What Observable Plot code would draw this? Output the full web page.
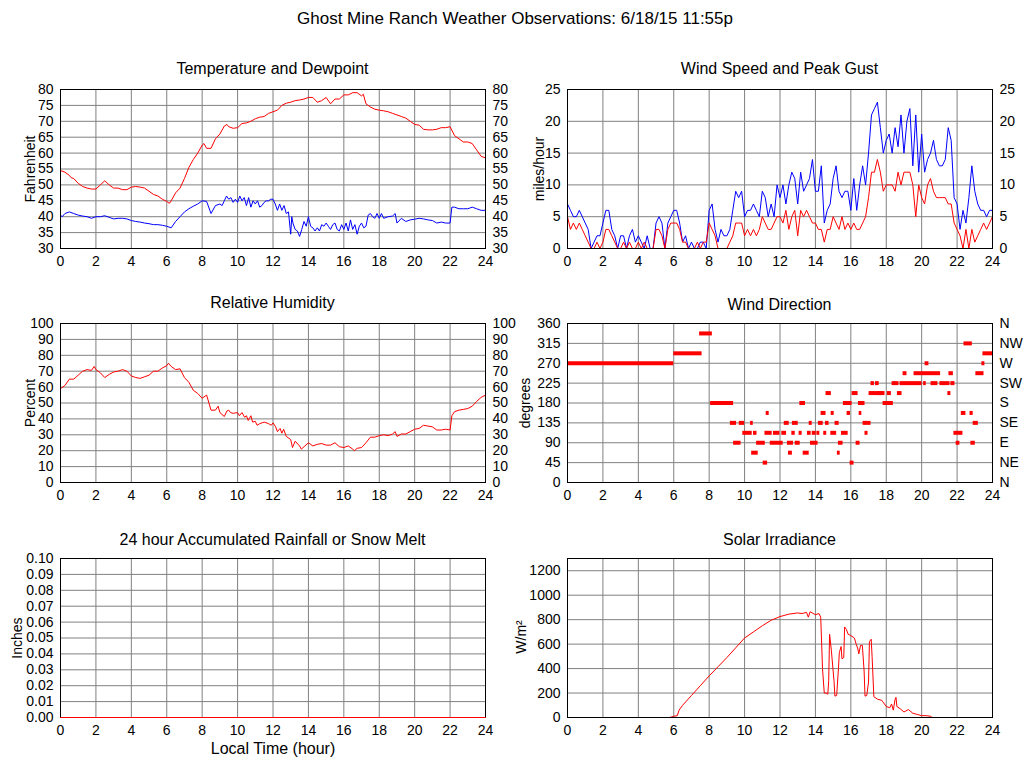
<!DOCTYPE html>
<html><head><meta charset="utf-8">
<script src="https://cdn.jsdelivr.net/npm/d3@7"></script>
<script src="https://cdn.jsdelivr.net/npm/@observablehq/plot@0.6"></script>
<style>
body{margin:0;background:#fff;}
#root{position:relative;width:1024px;height:768px;overflow:hidden;font-family:"Liberation Sans",Arial,Helvetica,sans-serif;color:#000;background:#fff;}
.t{position:absolute;white-space:nowrap;transform:translate(-50%,-50%);line-height:1;}
.main{font-size:17px}
.ptitle{font-size:16px}
.xlab{font-size:16px}
.ylab{font-size:14px;transform:translate(-50%,-50%) rotate(-90deg);}
.panel{position:absolute}
</style></head><body><div id="root"></div><script>
// ---------- DATA ----------
const mainTitle = "Ghost Mine Ranch Weather Observations: 6/18/15 11:55p";
const hourTicks = [0,2,4,6,8,10,12,14,16,18,20,22,24];
const tempTicks = [30,35,40,45,50,55,60,65,70,75,80];
const windTicks = [0,5,10,15,20,25];
const rhTicks = [0,10,20,30,40,50,60,70,80,90,100];
const dirTicks = [0,45,90,135,180,225,270,315,360];
const dirNames = ["N","NE","E","SE","S","SW","W","NW","N"];
const rainTicks = [0,0.01,0.02,0.03,0.04,0.05,0.06,0.07,0.08,0.09,0.10];
const solarTicks = [0,200,400,600,800,1000,1200];

// [hour, °F]
const temperature = [[0,54.5],[0.25,54],[0.5,53],[0.6,52.3],[0.75,52],[1,50.5],[1.25,49.5],[1.5,49],[1.75,48.7],[2,48.7],[2.25,50],[2.5,51.3],[2.75,50],[3,49],[3.25,49],[3.5,48.5],[3.75,48.5],[4,49.3],[4.25,49.5],[4.5,49.3],[4.75,49],[5,48],[5.25,47],[5.5,46.5],[5.75,45.5],[6,44.8],[6.15,44.2],[6.25,45],[6.5,47.5],[6.75,49],[7,52],[7.25,55.5],[7.5,58],[7.75,60],[8,62.5],[8.1,63],[8.25,61.5],[8.5,61.5],[8.75,64.5],[9,66],[9.25,68.5],[9.4,69],[9.5,68.3],[9.75,67.8],[10,68],[10.25,69.3],[10.5,69.5],[10.75,70],[11,70.8],[11.25,71.3],[11.5,71.5],[11.75,72.5],[12,73],[12.25,73.5],[12.5,75],[12.75,75.7],[13,76],[13.25,76.5],[13.5,76.7],[13.75,77],[14,77.5],[14.25,77.5],[14.5,76],[14.75,76.5],[15,77.5],[15.25,75.5],[15.5,77],[15.75,77],[16,78.3],[16.25,78.3],[16.5,79],[16.75,79],[17,78],[17.1,78.5],[17.25,75.5],[17.5,74.5],[17.75,73.8],[18,73.5],[18.25,73.3],[18.5,73],[18.75,72.5],[19,72],[19.25,71.5],[19.5,71],[19.75,70],[20,69],[20.25,68.8],[20.5,67.5],[20.75,67.3],[21,67.3],[21.25,67.5],[21.5,68],[21.75,68],[22,68.3],[22.25,65.5],[22.5,64.5],[22.75,63.5],[23,63.5],[23.25,63],[23.5,61],[23.75,59],[24,58.5]];

// [hour, °F]
const dewpoint = [[0,40.5],[0.1,40],[0.25,41],[0.5,41.5],[0.75,41],[1,40.5],[1.25,40.2],[1.5,40],[1.75,39.5],[2,40],[2.25,40],[2.5,40.3],[2.75,39.8],[3,39.3],[3.25,39.5],[3.5,39.5],[3.75,39.3],[4,38.8],[4.25,38.5],[4.5,38.3],[4.75,38],[5,37.8],[5.25,37.5],[5.5,37.5],[5.75,37.3],[6,37],[6.25,36.5],[6.5,38.5],[6.75,40],[7,41.5],[7.25,42.5],[7.5,43.3],[7.75,44],[8,45],[8.25,44.8],[8.5,41],[8.75,43.5],[9,44],[9.125,43.5],[9.25,45],[9.375,46.5],[9.5,45.5],[9.625,46],[9.75,44.5],[9.875,45.5],[10,44.5],[10.125,46.5],[10.25,45],[10.375,46],[10.5,43.5],[10.625,46],[10.75,43],[10.875,45],[11,44],[11.125,45],[11.25,43],[11.375,43.5],[11.5,44.5],[11.625,45],[11.75,45],[11.875,45.5],[12,45.5],[12.125,44],[12.25,42],[12.375,44],[12.5,42],[12.625,43.5],[12.75,41],[12.875,41.5],[13,34.5],[13.06,40],[13.125,38],[13.25,36],[13.375,35.5],[13.5,33.8],[13.625,36],[13.75,38.5],[13.875,37],[14,40],[14.125,37],[14.25,36.5],[14.375,35.5],[14.5,36.5],[14.625,35.5],[14.75,37.5],[14.875,37],[15,38],[15.125,37],[15.25,36],[15.375,37.5],[15.5,38],[15.625,36],[15.75,35.5],[15.875,37.5],[16,36],[16.125,38],[16.25,35.5],[16.375,39],[16.5,36],[16.625,37.5],[16.75,34.5],[16.875,37],[17,38],[17.125,36.5],[17.25,37],[17.375,40.5],[17.5,41],[17.625,40],[17.75,39.5],[17.875,41],[18,39.5],[18.125,41],[18.25,39.5],[18.5,40],[18.75,40.2],[18.9,41],[19,38],[19.25,39.5],[19.5,38.5],[19.75,39],[20,39.2],[20.25,39.5],[20.5,39.3],[20.75,39],[21,38.8],[21.25,38],[21.5,38.3],[21.75,38],[22,38],[22.1,43],[22.25,43],[22.5,42.5],[22.75,42.5],[23,42.5],[23.25,43],[23.5,42.5],[23.75,42],[24,42]];

// wind samples every 10 minutes from 0:00 to 24:00 (mph)
const windSampleHours = 1/6;
const peakGust = [7,6,5,5,6,5,4,3,0,1,2,2,4,
  6,6,3,2,0,2,2,0,2,3,1,2,
  1,0,2,0,0,4,5,4,0,4,5,6,
  6,4,1,2,0,1,0,0,1,1,0,6,
  7,3,1,3,2,2,3,6,9,8,9,5,
  6,6,7,6,5,9,8,5,7,5,10,8,
  10,7,10,12,11,7,12,9,10,11,14,9,
  9,13,4,6,7,11,13,9,8,9,9,6,
  11,6,10,13,10,15,21,22,23,19,15,17,
  18,15,19,16,21,15,20,22,13,21,12,18,
  12,14,15,17,14,13,13,14,19,17,8,7,
  3,6,4,8,13,9,7,6,6,5,6,6];
const windSpeed = [5,3,4,3,4,3,2,1,0,0,1,0,1,
  3,3,2,1,0,0,1,0,1,0,0,1,
  0,1,0,0,0,3,3,2,0,3,4,4,
  4,3,1,1,0,0,0,1,0,1,1,4,
  3,2,0,0,0,0,1,2,4,4,4,2,
  3,2,3,2,3,5,4,3,3,4,5,5,
  4,6,3,5,6,2,6,5,6,5,4,4,
  3,3,1,3,3,5,4,3,5,3,4,3,
  4,3,3,4,5,8,12,12,14,12,9,10,
  10,10,9,12,10,12,12,12,10,5,10,8,
  7,10,11,9,8,8,8,8,7,7,4,3,
  2,0,3,0,3,1,2,3,4,3,4,5];

// [hour, %]
const humidity = [[0,59],[0.25,61],[0.5,65],[0.75,65],[1,67.5],[1.25,70],[1.5,71],[1.75,70.5],[1.9,73],[2,71],[2.25,69],[2.5,66],[2.75,68],[3,69.5],[3.25,70],[3.5,71],[3.75,70],[4,67],[4.25,66],[4.5,65.5],[4.75,66.5],[5,67.5],[5.25,70],[5.5,70],[5.75,72],[6,73.5],[6.1,75],[6.25,73],[6.5,71],[6.75,71.5],[7,66],[7.25,63],[7.5,58],[7.75,56],[8,53],[8.25,55],[8.5,45.5],[8.75,45.5],[8.9,48],[9,44],[9.25,41.5],[9.4,45],[9.5,45.5],[9.6,44],[9.75,43.5],[10,44],[10.1,42],[10.25,44],[10.4,41],[10.5,42],[10.6,39],[10.75,42],[10.85,38],[11,38.5],[11.1,36],[11.25,37],[11.5,38],[11.75,37],[11.9,36],[12,37.5],[12.15,35],[12.25,32],[12.4,34],[12.5,31],[12.6,33.5],[12.75,29],[13,27],[13.1,22],[13.25,26],[13.5,23],[13.6,21],[13.75,22.5],[14,25],[14.25,23],[14.5,24],[14.75,24.5],[15,23.5],[15.25,23.5],[15.5,25],[15.75,22.5],[16,22],[16.25,23],[16.5,21],[16.6,20],[16.75,21.5],[17,22],[17.25,25],[17.5,28.5],[17.75,28.5],[18,29.5],[18.25,30],[18.5,29.5],[18.75,30.5],[18.9,32],[19,29],[19.25,30.5],[19.5,30.5],[19.75,32],[20,33.5],[20.25,34],[20.5,36],[20.75,35.5],[21,35],[21.25,33],[21.5,33],[21.75,33.5],[22,33],[22.1,42],[22.25,44.5],[22.5,45.5],[22.75,46],[23,46.5],[23.25,48],[23.5,51],[23.75,53.5],[24,55]];

// [start hour, end hour, degrees]
const windDirection = [[0,6,270],[6,7.6,292.5],[7.46,8.18,337.5],[8.08,9.38,180],[9.2,9.55,135],[9.38,9.8,90],[9.7,10,135],[9.9,10.43,112.5],[10.34,10.49,135],[10.4,10.77,67.5],[10.5,10.7,112.5],[10.68,11.17,90],[11.05,11.3,45],[11.15,11.56,112.5],[11.22,11.39,157.5],[11.45,12.18,90],[11.63,12,112.5],[12.1,12.37,112.5],[12.24,12.52,135],[12.42,12.76,90],[12.48,12.7,67.5],[12.67,12.86,112.5],[12.7,13.03,135],[12.86,13.14,90],[13.08,13.25,112.5],[13.12,13.44,180],[13.31,13.65,67.5],[13.55,13.76,112.5],[13.65,13.82,135],[13.72,14.15,90],[13.82,14.04,112.5],[14.08,14.25,112.5],[14.17,14.44,135],[14.32,14.6,157.5],[14.47,14.64,112.5],[14.57,14.77,135],[14.6,14.9,202.5],[14.89,15.06,157.5],[14.87,15.2,112.5],[15.11,15.34,135],[15.24,15.4,67.5],[15.3,15.56,90],[15.47,15.85,112.5],[15.58,16.07,180],[15.79,15.98,157.5],[15.96,16.18,45],[16.07,16.41,202.5],[16.3,16.52,90],[16.47,16.62,157.5],[16.43,16.8,180],[16.69,17.14,135],[16.8,16.97,112.5],[17.03,17.78,202.5],[17.14,17.33,225],[17.39,17.6,225],[17.52,17.93,202.5],[17.82,18.4,180],[18.06,18.29,202.5],[18.33,18.72,225],[18.63,18.89,202.5],[18.78,20.02,225],[18.95,19.17,247.5],[19.57,21.07,247.5],[20.11,20.26,225],[20.19,20.41,270],[20.53,20.92,225],[21.03,21.6,225],[21.48,21.65,202.5],[21.54,21.79,247.5],[21.65,21.88,225],[21.82,22.33,112.5],[21.95,22.16,90],[22.24,22.5,157.5],[22.39,22.86,315],[22.73,22.91,157.5],[22.78,23.03,90],[22.91,23.2,135],[23.06,23.52,247.5],[23.4,23.57,270],[23.46,24,292.5]];

// [hour, inches]
const rainfall = [[0,0],[24,0]];

// [hour, W/m²]
const solar = [[0,0],[5.75,0],[5.9,5],[6,10],[6.2,15],[6.3,60],[6.5,100],[7,180],[7.5,260],[8,340],[8.5,415],[9,490],[9.5,570],[10,650],[10.5,700],[11,750],[11.5,795],[12,825],[12.5,845],[13,855],[13.25,850],[13.5,860],[13.6,820],[13.7,865],[14,840],[14.2,850],[14.3,820],[14.4,400],[14.5,200],[14.6,200],[14.7,190],[14.75,300],[14.8,680],[14.9,550],[15,380],[15.05,300],[15.1,175],[15.2,180],[15.3,400],[15.35,530],[15.45,580],[15.5,480],[15.6,490],[15.65,740],[15.75,720],[15.85,680],[16,670],[16.2,650],[16.3,600],[16.4,560],[16.45,520],[16.55,590],[16.65,590],[16.75,380],[16.8,175],[16.9,180],[17,290],[17.05,620],[17.15,640],[17.2,500],[17.3,170],[17.5,150],[17.75,140],[18,90],[18.2,80],[18.3,110],[18.4,60],[18.5,150],[18.55,165],[18.6,90],[18.8,70],[19,45],[19.25,65],[19.5,35],[19.75,25],[20,15],[20.25,15],[20.5,10],[20.6,0],[24,0]];

// ---------- RENDER ----------
const RED = "#ff0000", BLUE = "#0000ff", GRID = "#808080";
const root = document.getElementById("root");

function addText(txt, x, y, cls) {
  const d = document.createElement("div");
  d.className = "t " + cls;
  d.style.left = x + "px"; d.style.top = y + "px";
  d.textContent = txt;
  root.appendChild(d);
}

function panel({left, top, plotLeft, plotTop, plotRight, plotBottom, yDomain, yTicks, yFormat, rightFormat, marks, after = []}) {
  const W = 512;
  const marginLeft = plotLeft - left, marginRight = left + W - plotRight;
  const marginTop = plotTop - top, marginBottom = 24;
  const H = plotBottom - top + marginBottom;
  const axes = [
    Plot.axisX(hourTicks, {tickSize: 0, tickPadding: 8, label: null}),
    Plot.axisY(yTicks, {anchor: "left", tickSize: 0, tickPadding: 7, label: null, tickFormat: yFormat})
  ];
  if (rightFormat) axes.push(Plot.axisY(yTicks, {anchor: "right", tickSize: 0, tickPadding: 7, label: null, tickFormat: rightFormat}));
  const p = Plot.plot({
    width: W, height: H, marginLeft, marginRight, marginTop, marginBottom,
    style: {background: "transparent", fontFamily: "'Liberation Sans', Arial, Helvetica, sans-serif", fontSize: "14px", color: "#000", overflow: "visible"},
    x: {domain: [0, 24]},
    y: {domain: yDomain},
    marks: [
      Plot.gridX(hourTicks, {stroke: GRID, strokeOpacity: 1}),
      Plot.gridY(yTicks, {stroke: GRID, strokeOpacity: 1}),
      ...marks,
      Plot.frame({stroke: "#000", strokeOpacity: 1}),
      ...after,
      ...axes
    ]
  });
  p.classList.add("panel");
  p.style.left = left + "px"; p.style.top = top + "px";
  root.appendChild(p);
}

const fmtInt = d3.format("d");
const L = {left: 0, plotLeft: 60, plotRight: 485};
const R = {left: 512, plotLeft: 567, plotRight: 992};
const rows = [{top: 80, plotTop: 89, plotBottom: 248}, {top: 314, plotTop: 323, plotBottom: 482}, {top: 548, plotTop: 558, plotBottom: 717}];

panel({...L, ...rows[0], yDomain: [30, 80], yTicks: tempTicks, yFormat: fmtInt, rightFormat: fmtInt,
  marks: [
    Plot.line(temperature, {x: d => d[0], y: d => d[1], stroke: RED, strokeWidth: 1}),
    Plot.line(dewpoint, {x: d => d[0], y: d => d[1], stroke: BLUE, strokeWidth: 1})
  ]});

panel({...R, ...rows[0], yDomain: [0, 25], yTicks: windTicks, yFormat: fmtInt, rightFormat: fmtInt,
  marks: [
    Plot.line(peakGust, {x: (d, i) => i * windSampleHours, y: d => d, stroke: BLUE, strokeWidth: 1}),
    Plot.line(windSpeed, {x: (d, i) => i * windSampleHours, y: d => d, stroke: RED, strokeWidth: 1})
  ]});

panel({...L, ...rows[1], yDomain: [0, 100], yTicks: rhTicks, yFormat: fmtInt, rightFormat: fmtInt,
  marks: [
    Plot.line(humidity, {x: d => d[0], y: d => d[1], stroke: RED, strokeWidth: 1})
  ]});

panel({...R, ...rows[1], yDomain: [0, 360], yTicks: dirTicks, yFormat: fmtInt, rightFormat: d => dirNames[dirTicks.indexOf(d)],
  marks: [
    Plot.ruleY(windDirection, {x1: d => d[0], x2: d => d[1], y: d => d[2], stroke: RED, strokeWidth: 4})
  ]});

panel({...L, ...rows[2], yDomain: [0, 0.1], yTicks: rainTicks, yFormat: d3.format(".2f"), rightFormat: null,
  marks: [],
  after: [Plot.line(rainfall, {x: d => d[0], y: d => d[1], stroke: RED, strokeWidth: 1})]});

panel({...R, ...rows[2], yDomain: [0, 1300], yTicks: solarTicks, yFormat: fmtInt, rightFormat: null,
  marks: [
    Plot.line(solar, {x: d => d[0], y: d => d[1], stroke: RED, strokeWidth: 1})
  ]});

// titles and axis labels
addText(mainTitle, 515, 18, "main");
addText("Temperature and Dewpoint", 272.5, 69, "ptitle");
addText("Wind Speed and Peak Gust", 779.5, 69, "ptitle");
addText("Relative Humidity", 272.5, 303, "ptitle");
addText("Wind Direction", 779.5, 305, "ptitle");
addText("24 hour Accumulated Rainfall or Snow Melt", 272.5, 540, "ptitle");
addText("Solar Irradiance", 779.5, 540, "ptitle");
addText("Local Time (hour)", 273, 749, "xlab");
addText("Fahrenheit", 30, 169, "ylab");
addText("miles/hour", 539, 169, "ylab");
addText("Percent", 30, 403, "ylab");
addText("degrees", 525, 403, "ylab");
addText("Inches", 17, 638, "ylab");
addText("W/m²", 521, 637, "ylab");
</script></body></html>
